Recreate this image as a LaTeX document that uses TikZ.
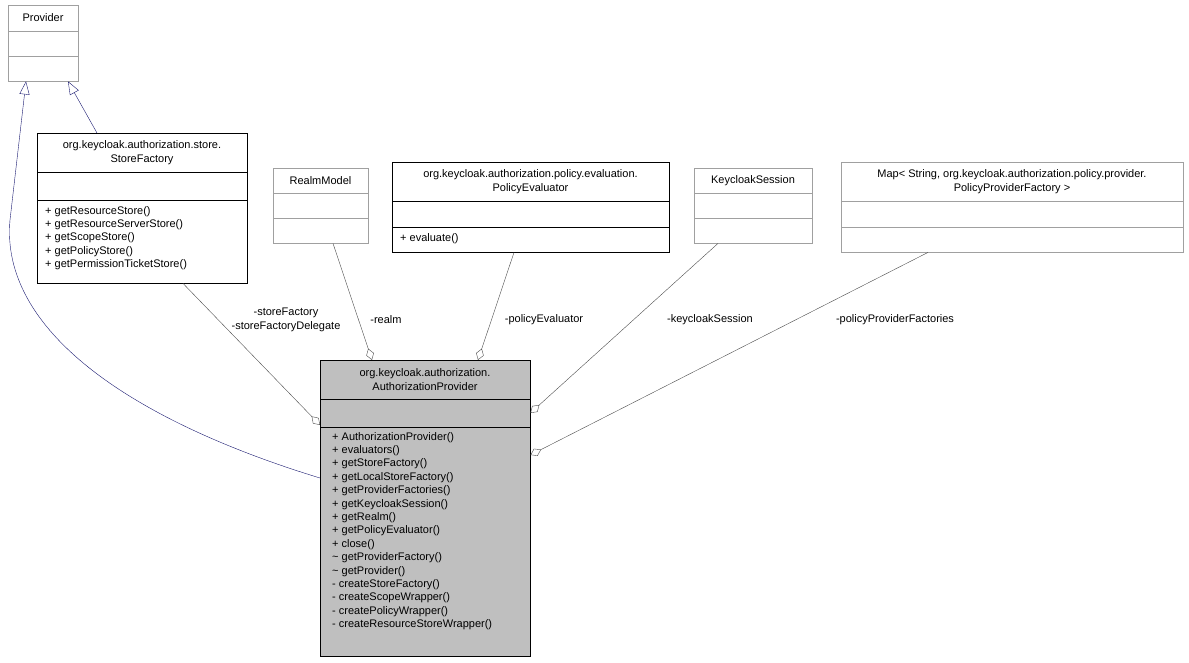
\documentclass[tikz,border=0pt]{standalone}
\usepackage{fontspec}
\setmainfont{Liberation Sans}
\usetikzlibrary{arrows.meta}
\definecolor{edgeblue}{RGB}{25,25,112}
\definecolor{boxgray}{RGB}{160,160,160}
\definecolor{apfill}{RGB}{191,191,191}
\tikzset{
  plain/.style={draw=black},
  faded/.style={draw=boxgray},
  txt/.style={font=\fontsize{11}{13.4}\selectfont, inner sep=0pt},
  aggr/.style={draw=black!70, {Diamond[open,length=12pt,width=8pt]}-},
  inherit/.style={draw=edgeblue, -{Triangle[open,length=13pt,width=10pt]}}
}
% name, style, x, y, w, h1, h2, h3, title
\newcommand{\umlclass}[9]{%
  \node[#2, minimum width=#5pt, minimum height={(#6+#7+#8)*1pt}, anchor=north west, inner sep=0pt] (#1) at (#3,#4) {};
  \draw[#2] (#3,#4+#6) -- ++(#5,0);
  \draw[#2] (#3,#4+#6+#7) -- ++(#5,0);
  \node[txt, align=center] at (#3+#5/2,#4+#6/2) {#9};
}
\begin{document}
\begin{tikzpicture}[x=1pt,y=-1pt]
\useasboundingbox (0,0) rectangle (1189,663);
% classes
\umlclass{prov}{faded}{8}{5}{70}{26}{25}{25}{Provider}
\umlclass{sf}{plain}{37}{133}{210}{39}{28}{83}{org.keycloak.authorization.store.\\StoreFactory}
\node[txt, align=left, anchor=north west] at (45,206) {+ getResourceStore()\\+ getResourceServerStore()\\+ getScopeStore()\\+ getPolicyStore()\\+ getPermissionTicketStore()};
\umlclass{rm}{faded}{273}{168}{95}{25}{25}{25}{RealmModel}
\umlclass{pe}{plain}{392}{162}{277}{39}{26}{25}{org.keycloak.authorization.policy.evaluation.\\PolicyEvaluator}
\node[txt, align=left, anchor=north west] at (400,233) {+ evaluate()};
\umlclass{ks}{faded}{694}{168}{118}{25}{25}{25}{KeycloakSession}
\umlclass{mp}{faded}{841}{162}{342}{39}{26}{25}{Map< String, org.keycloak.authorization.policy.provider.\\PolicyProviderFactory >}
\fill[apfill] (320,360) rectangle (530,656);
\umlclass{ap}{plain}{320}{360}{210}{39}{28}{229}{org.keycloak.authorization.\\AuthorizationProvider}
\node[txt, align=left, anchor=north west] at (332,432) {+ AuthorizationProvider()\\+ evaluators()\\+ getStoreFactory()\\+ getLocalStoreFactory()\\+ getProviderFactories()\\+ getKeycloakSession()\\+ getRealm()\\+ getPolicyEvaluator()\\+ close()\\\textasciitilde\ getProviderFactory()\\\textasciitilde\ getProvider()\\- createStoreFactory()\\- createScopeWrapper()\\- createPolicyWrapper()\\- createResourceStoreWrapper()};
% inheritance
\draw[inherit] (ap.west |- 0,478) .. controls (130,420) and (0,330) .. (10,220) -- (prov.south west -| 26,0);
\draw[inherit] (sf.north west -| 97,0) -- (prov.south east -| 68,0);
% aggregation
\draw[aggr] (ap.north west |- 0,425) -- (sf.south west -| 183,0);
\draw[aggr] (ap.north west -| 372,0) -- (rm.south west -| 333,0);
\draw[aggr] (ap.north west -| 478,0) -- (pe.south west -| 514,0);
\draw[aggr] (ap.north east |- 0,413) -- (ks.south west -| 718,0);
\draw[aggr] (ap.north east |- 0,455) -- (mp.south west -| 928,0);
% edge labels
\node[txt, align=center] (l1) at (286,320) {-storeFactory\\-storeFactoryDelegate};
\node[txt] (l2) at (386,320) {-realm};
\node[txt] (l3) at (544,320) {-policyEvaluator};
\node[txt] (l4) at (710,320) {-keycloakSession};
\node[txt] (l5) at (895,320) {-policyProviderFactories};
\end{tikzpicture}
\end{document}
